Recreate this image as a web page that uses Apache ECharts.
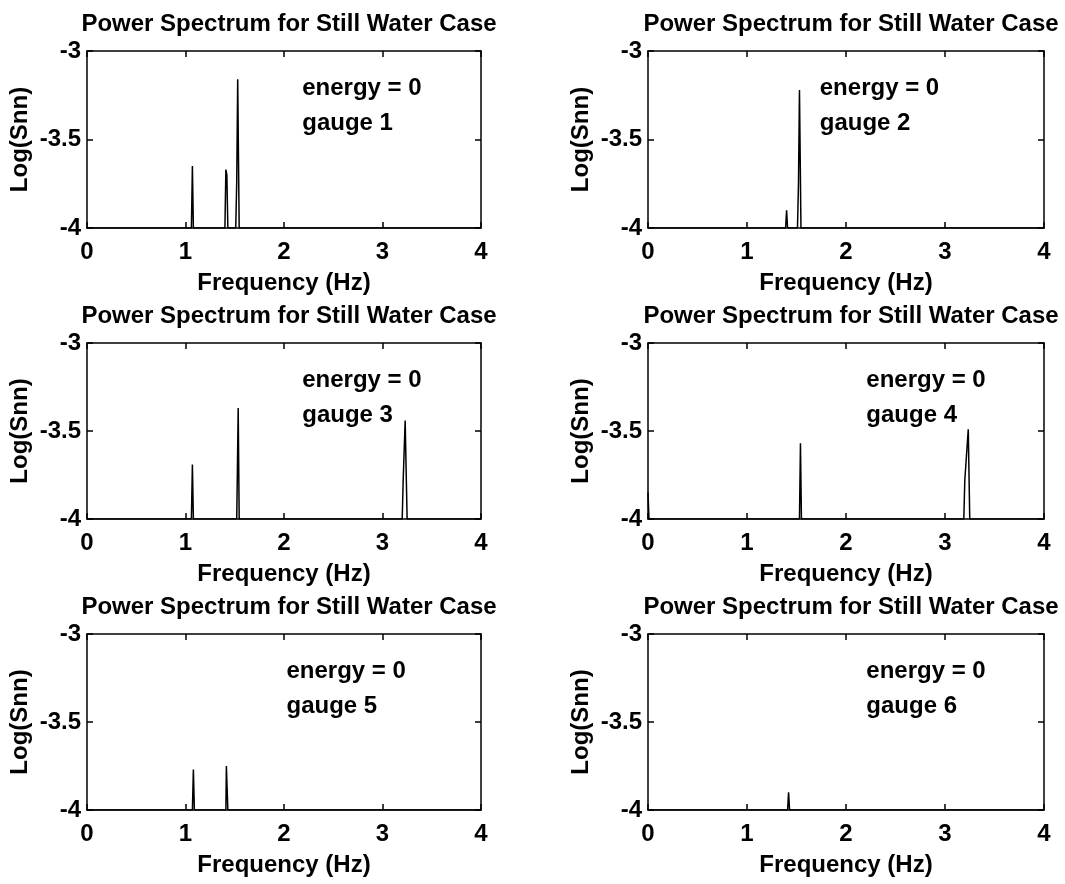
<!DOCTYPE html>
<html>
<head>
<meta charset="utf-8">
<script src="https://cdn.jsdelivr.net/npm/echarts@6/dist/echarts.min.js"></script>
<style>html,body{margin:0;padding:0;background:#fff}#c{width:1065px;height:884px}</style>
</head>
<body>
<div id="c"></div>
<script>
// ---- data (frequency Hz, log10 Snn) ----
const titleText = 'Power Spectrum for Still Water Case';
const xName = 'Frequency (Hz)';
const yName = 'Log(Snn)';
const xTicks = [0, 1, 2, 3, 4];
const yTicks = [-4, -3.5, -3];

const gauge1 = [[0,-4],[1.06,-4],[1.07,-3.65],[1.08,-4],[1.40,-4],[1.41,-3.67],[1.42,-3.70],[1.43,-4],[1.51,-4],[1.52,-3.74],[1.53,-3.16],[1.545,-4],[4,-4]];
const gauge2 = [[0,-4],[1.39,-4],[1.40,-3.90],[1.41,-4],[1.51,-4],[1.52,-3.75],[1.53,-3.22],[1.545,-4],[4,-4]];
const gauge3 = [[0,-4],[1.06,-4],[1.07,-3.69],[1.08,-4],[1.52,-4],[1.525,-3.80],[1.535,-3.37],[1.545,-4],[3.20,-4],[3.21,-3.78],[3.23,-3.44],[3.25,-4],[4,-4]];
const gauge4 = [[0,-3.85],[0.01,-4],[1.53,-4],[1.54,-3.57],[1.55,-4],[3.19,-4],[3.20,-3.78],[3.235,-3.49],[3.25,-4],[4,-4]];
const gauge5 = [[0,-4],[1.07,-4],[1.08,-3.77],[1.09,-4],[1.41,-4],[1.415,-3.75],[1.425,-3.75],[1.43,-4],[4,-4]];
const gauge6 = [[0,-4],[1.41,-4],[1.42,-3.90],[1.43,-4],[4,-4]];
const gauges = [gauge1, gauge2, gauge3, gauge4, gauge5, gauge6];

const noteLines = ['energy = 0', 'gauge'];
const noteX = [2.18, 1.73, 2.18, 2.2, 2.02, 2.2];
const noteY = [-3.21, -3.41];

// ---- layout ----
const cols = [{left: 87, width: 394}, {left: 648, width: 396}];
const rows = [{top: 51, height: 177}, {top: 343, height: 176}, {top: 634, height: 176}];
const FONT = "'Liberation Sans', Arial, Helvetica, sans-serif";
const FS = 24;

const grids = [], xAxes = [], yAxes = [], series = [], titles = [];
for (let i = 0; i < 6; i++) {
  const c = cols[i % 2], r = rows[Math.floor(i / 2)];
  grids.push({left: c.left, top: r.top, width: c.width, height: r.height, containLabel: false});
  titles.push({text: titleText, left: c.left + c.width / 2, top: r.top - 44, textAlign: 'center',
    textStyle: {fontFamily: FONT, fontSize: FS, fontWeight: 'bold', color: '#000'}});
  const tickStyle = {show: true, inside: true, length: 6, lineStyle: {color: '#000', width: 1.5}};
  const lineStyle = {show: true, onZero: false, lineStyle: {color: '#000', width: 1.5}};
  xAxes.push({gridIndex: i, type: 'value', min: xTicks[0], max: xTicks[xTicks.length-1], interval: 1, position: 'bottom',
    name: xName, nameLocation: 'middle', nameGap: 43,
    nameTextStyle: {fontFamily: FONT, fontSize: FS, fontWeight: 'bold', color: '#000'},
    axisLine: lineStyle, axisTick: tickStyle, splitLine: {show: false},
    axisLabel: {margin: 12, fontFamily: FONT, fontSize: FS, fontWeight: 'bold', color: '#000'}});
  xAxes.push({gridIndex: i, type: 'value', min: xTicks[0], max: xTicks[xTicks.length-1], interval: 1, position: 'top',
    axisLine: lineStyle, axisTick: tickStyle, splitLine: {show: false}, axisLabel: {show: false}});
  yAxes.push({gridIndex: i, type: 'value', min: yTicks[0], max: yTicks[yTicks.length-1], interval: 0.5, position: 'left',
    name: yName, nameLocation: 'middle', nameGap: 55,
    nameTextStyle: {fontFamily: FONT, fontSize: FS, fontWeight: 'bold', color: '#000'},
    axisLine: lineStyle, axisTick: tickStyle, splitLine: {show: false},
    axisLabel: {margin: 6, fontFamily: FONT, fontSize: FS, fontWeight: 'bold', color: '#000'}});
  yAxes.push({gridIndex: i, type: 'value', min: yTicks[0], max: yTicks[yTicks.length-1], interval: 0.5, position: 'right',
    axisLine: lineStyle, axisTick: tickStyle, splitLine: {show: false}, axisLabel: {show: false}});
  series.push({type: 'line', xAxisIndex: 2 * i, yAxisIndex: 2 * i, data: gauges[i], showSymbol: false,
    lineStyle: {color: '#000', width: 1.5}, clip: true, silent: true});
  series.push({type: 'scatter', xAxisIndex: 2 * i, yAxisIndex: 2 * i, symbolSize: 1,
    itemStyle: {color: 'rgba(0,0,0,0)'}, silent: true,
    data: [[noteX[i], noteY[0], noteLines[0]], [noteX[i], noteY[1], noteLines[1] + ' ' + (i + 1)]],
    label: {show: true, position: 'right', distance: 0, align: 'left', verticalAlign: 'middle',
      formatter: p => p.data[2], fontFamily: FONT, fontSize: FS, fontWeight: 'bold',
      color: '#000', textBorderWidth: 0, opacity: 1}});
}

const chart = echarts.init(document.getElementById('c'), null, {renderer: 'canvas'});
chart.setOption({animation: false, backgroundColor: '#fff', title: titles, grid: grids,
  xAxis: xAxes, yAxis: yAxes, series: series});
</script>
</body>
</html>
